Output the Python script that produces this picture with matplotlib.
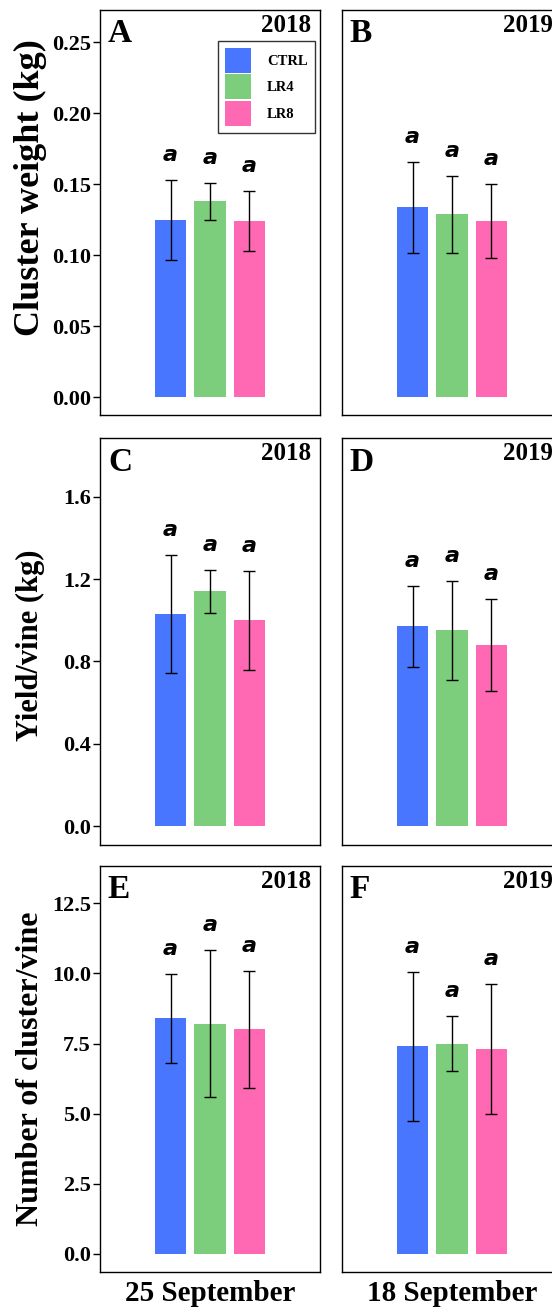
import matplotlib
matplotlib.use('Agg')
import matplotlib.pyplot as plt
import numpy as np

# treatments and colours
treatments = ['CTRL', 'LR4', 'LR8']
colors = ['#4876FF', '#7CCD7C', '#FF69B4']

# cluster weight (kg), mean and sd
cw_2018 = [0.125, 0.138, 0.124]
cw_2018_sd = [0.028, 0.013, 0.021]
cw_2019 = [0.134, 0.129, 0.124]
cw_2019_sd = [0.032, 0.027, 0.026]

# yield per vine (kg)
yv_2018 = [1.03, 1.14, 1.00]
yv_2018_sd = [0.285, 0.105, 0.240]
yv_2019 = [0.97, 0.95, 0.88]
yv_2019_sd = [0.195, 0.240, 0.222]

# clusters per vine
nc_2018 = [8.4, 8.2, 8.0]
nc_2018_sd = [1.58, 2.62, 2.10]
nc_2019 = [7.4, 7.5, 7.3]
nc_2019_sd = [2.66, 0.97, 2.31]

letters = ['a', 'a', 'a']
years = ['2018', '2019']
harvest_dates = ['25 September', '18 September']
panel_ids = ['A', 'B', 'C', 'D', 'E', 'F']

rows = [
    dict(data=[(cw_2018, cw_2018_sd), (cw_2019, cw_2019_sd)],
         ylabel='Cluster weight (kg)', ylim=(-0.012, 0.273), lsize=26,
         ticks=[0, 0.05, 0.10, 0.15, 0.20, 0.25], fmt='%.2f', label_y=0.56),
    dict(data=[(yv_2018, yv_2018_sd), (yv_2019, yv_2019_sd)],
         ylabel='Yield/vine (kg)', ylim=(-0.092, 1.885), lsize=22,
         ticks=[0, 0.4, 0.8, 1.2, 1.6], fmt='%.1f', label_y=0.49),
    dict(data=[(nc_2018, nc_2018_sd), (nc_2019, nc_2019_sd)],
         ylabel='Number of cluster/vine', ylim=(-0.63, 13.83), lsize=23,
         ticks=[0, 2.5, 5.0, 7.5, 10.0, 12.5], fmt='%.1f', label_y=0.50),
]

SERIF = 'Liberation Serif'

fig = plt.figure(figsize=(5.52, 13.07), dpi=100)
fig.patch.set_facecolor('white')

col_left = [100 / 552, 342 / 552]
ax_w = 220 / 552
row_box = [(9.5, 414.5), (438, 845), (866, 1271.5)]  # top, bottom in px

x = np.arange(len(treatments))

for r, spec in enumerate(rows):
    top, bot = row_box[r]
    for c in range(2):
        ax = fig.add_axes([col_left[c], 1 - bot / 1307, ax_w, (bot - top) / 1307])
        means, sds = spec['data'][c]
        for i, t in enumerate(treatments):
            ax.bar(x[i], means[i], width=0.785, color=colors[i], label=t,
                   edgecolor='none', zorder=2)
        ax.errorbar(x, means, yerr=sds, fmt='none', ecolor='black',
                    elinewidth=1.0, capsize=4, capthick=1.0, zorder=3)
        for i in range(len(treatments)):
            ax.annotate(letters[i], (x[i], means[i] + sds[i]),
                        xytext=(0, 18), textcoords='offset points',
                        ha='center', va='center', fontsize=16,
                        family='DejaVu Sans', fontweight='bold',
                        fontstyle='italic')
        ax.set_xlim(-1.785, 3.785)
        ax.set_ylim(*spec['ylim'])
        ax.set_xticks([])
        for s in ax.spines.values():
            s.set_linewidth(1.0)
            s.set_color('black')
        if c == 0:
            ax.set_yticks(spec['ticks'])
            ax.set_yticklabels([spec['fmt'] % v for v in spec['ticks']],
                               family=SERIF, fontweight='bold', fontsize=16)
            ax.tick_params(axis='y', length=5, width=1.0, pad=1.5, color='black')
            ax.text(-0.318, spec['label_y'], spec['ylabel'], transform=ax.transAxes,
                    rotation=90, ha='center', va='center', family=SERIF,
                    fontweight='bold', fontsize=spec['lsize'])
        else:
            ax.set_yticks([])

        # panel id and year
        ax.text(0.036, 0.92, panel_ids[r * 2 + c], transform=ax.transAxes,
                ha='left', va='baseline', family=SERIF, fontweight='bold',
                fontsize=24)
        ax.text(0.959, 0.945, years[c], transform=ax.transAxes,
                ha='right', va='baseline', family=SERIF, fontweight='bold',
                fontsize=18)

        if r == 0 and c == 0:
            leg = ax.legend(loc='upper right', bbox_to_anchor=(0.977, 0.923),
                            borderaxespad=0, fancybox=False, edgecolor='black',
                            prop={'family': SERIF, 'weight': 'bold', 'size': 10.5},
                            handlelength=1.75, handleheight=2.25,
                            handletextpad=1.1, labelspacing=0.1,
                            borderpad=0.5)
            leg.get_frame().set_linewidth(1.0)
        if r == 2:
            ax.set_xlabel(harvest_dates[c], family=SERIF, fontweight='bold',
                          fontsize=21, labelpad=6)

fig.savefig('out.png', dpi=100, facecolor='white')
